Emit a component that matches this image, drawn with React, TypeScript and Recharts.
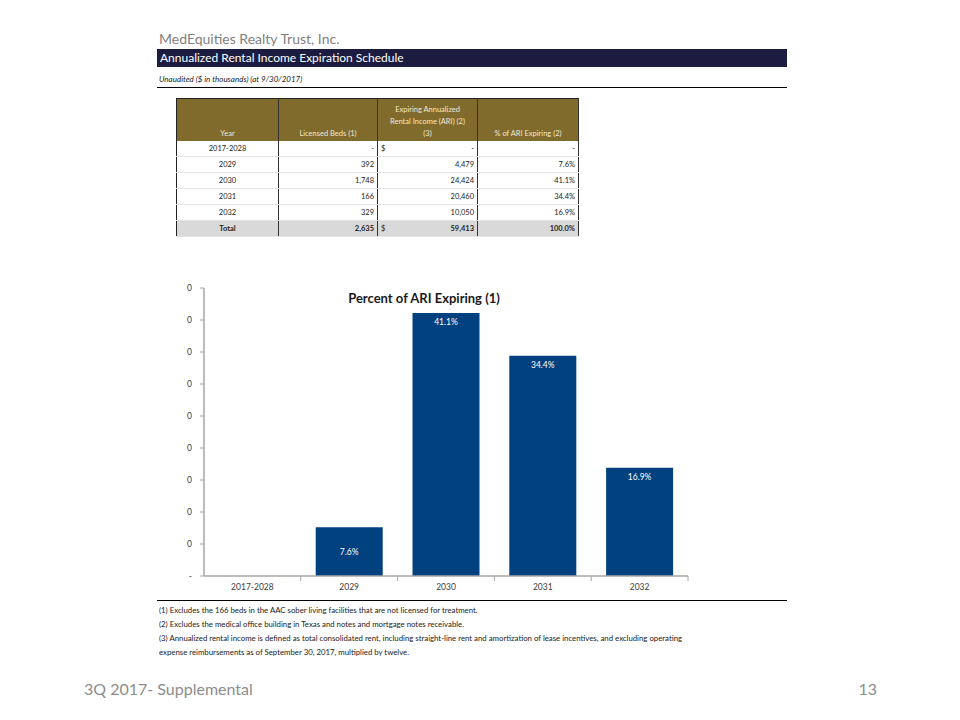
import React from 'react';
import { BarChart, Bar, XAxis, YAxis, LabelList } from 'recharts';

const years = ['2017-2028', '2029', '2030', '2031', '2032'];
const licensedBeds = ['-', '392', '1,748', '166', '329'];
const ariValues = ['-', '4,479', '24,424', '20,460', '10,050'];
const pctLabels = ['-', '7.6%', '41.1%', '34.4%', '16.9%'];
const pctExpiring = [0, 0.076, 0.411, 0.344, 0.169];
const yTicks = [0, 0.05, 0.1, 0.15, 0.2, 0.25, 0.3, 0.35, 0.4, 0.45];
const totalRow = { beds: '2,635', ari: '59,413', pct: '100.0%' };
const footnotes = [
  '(1) Excludes the 166 beds in the AAC sober living facilities that are not licensed for treatment.',
  '(2) Excludes the medical office building in Texas and notes and mortgage notes receivable.',
  '(3) Annualized rental income is defined as total consolidated rent, including straight-line rent and amortization of lease incentives, and excluding operating',
  'expense reimbursements as of September 30, 2017, multiplied by twelve.',
];

const chartData = years.map((y, i) => ({ year: y, pct: pctExpiring[i] }));

const FONT = 'Lato, "Open Sans", sans-serif';
const BAR = '#02417f';
const AXIS = '#a6a6a6';

const XTick = (props: any) => {
  const { x, y, payload, index, visibleTicksCount } = props;
  const half = payload && payload.offset ? payload.offset : 0;
  return (
    <g>
      {half > 0 && index > 0 && (
        <line x1={x - half} x2={x - half} y1={y - 8} y2={y - 3} stroke={AXIS} strokeWidth={1} />
      )}
      {half > 0 && index === visibleTicksCount - 1 && (
        <line x1={x + half} x2={x + half} y1={y - 8} y2={y - 3} stroke={AXIS} strokeWidth={1} />
      )}
      <text x={x} y={y + 6} textAnchor="middle" fontSize={8.5} fill="#404040" fontFamily={FONT}>
        {payload.value}
      </text>
    </g>
  );
};

const BarLabel = (props: any) => {
  const { x, y, width, height, value } = props;
  if (!value) return null;
  const ly = height < 60 ? y + height / 2 + 3 : y + 12;
  return (
    <text x={x + width / 2} y={ly} textAnchor="middle" fontSize={8.5} fill="#ffffff" fontFamily={FONT}>
      {(value * 100).toFixed(1) + '%'}
    </text>
  );
};

const th: React.CSSProperties = {
  color: '#efe9d6',
  fontWeight: 'normal',
  verticalAlign: 'bottom',
  padding: '0 2px 1px 2px',
  borderRight: '1px solid #333',
  textAlign: 'center',
  lineHeight: '12px',
};

const td: React.CSSProperties = {
  height: 15,
  padding: '0 3px',
  borderRight: '1px solid #333',
  borderBottom: '1px solid #e4e4e4',
  textAlign: 'right',
  lineHeight: '15px',
};

export default function App() {
  return (
    <div style={{ position: 'absolute', left: 0, top: 0, width: 960, height: 720, background: '#fff', fontFamily: FONT }}>
      <div style={{ position: 'absolute', left: 159, top: 30, fontSize: 14, color: '#7f7f7f' }}>
        MedEquities Realty Trust, Inc.
      </div>
      <div style={{ position: 'absolute', left: 157, top: 49, width: 630, height: 18, background: '#1b1c3f' }}>
        <div style={{ marginLeft: 3, fontSize: 12, lineHeight: '18px', color: '#ffffff' }}>
          Annualized Rental Income Expiration Schedule
        </div>
      </div>
      <div style={{ position: 'absolute', left: 159, top: 74, fontSize: 8, fontStyle: 'italic', color: '#222' }}>
        Unaudited ($ in thousands) (at 9/30/2017)
      </div>
      <div style={{ position: 'absolute', left: 157, top: 87, width: 630, height: 1, background: '#000' }} />

      <table
        style={{
          position: 'absolute',
          left: 176,
          top: 98,
          width: 402,
          borderCollapse: 'collapse',
          fontSize: 7.5,
          color: '#222',
          border: '1px solid #222',
          tableLayout: 'fixed',
        }}
      >
        <colgroup>
          <col style={{ width: 102 }} />
          <col style={{ width: 99 }} />
          <col style={{ width: 100 }} />
          <col style={{ width: 101 }} />
        </colgroup>
        <thead>
          <tr style={{ background: '#806b2c', height: 42 }}>
            <th style={th}>Year</th>
            <th style={th}>Licensed Beds (1)</th>
            <th style={th}>
              Expiring Annualized
              <br />
              Rental Income (ARI) (2)
              <br />
              (3)
            </th>
            <th style={th}>% of ARI Expiring (2)</th>
          </tr>
        </thead>
        <tbody>
          {years.map((y, i) => (
            <tr key={y}>
              <td style={{ ...td, textAlign: 'center' }}>{y}</td>
              <td style={td}>{licensedBeds[i]}</td>
              <td style={td}>
                {i === 0 && <span style={{ float: 'left' }}>$</span>}
                {ariValues[i]}
              </td>
              <td style={td}>{pctLabels[i]}</td>
            </tr>
          ))}
          <tr style={{ background: '#d9d9d9', fontWeight: 'bold', borderTop: '1px solid #444' }}>
            <td style={{ ...td, textAlign: 'center' }}>Total</td>
            <td style={td}>{totalRow.beds}</td>
            <td style={td}>
              <span style={{ float: 'left', fontWeight: 'normal' }}>$</span>
              {totalRow.ari}
            </td>
            <td style={td}>{totalRow.pct}</td>
          </tr>
        </tbody>
      </table>

      <div
        style={{
          position: 'absolute',
          left: 204,
          top: 290,
          width: 440,
          textAlign: 'center',
          fontSize: 13,
          fontWeight: 'bold',
          color: '#1a1a1a',
        }}
      >
        Percent of ARI Expiring (1)
      </div>

      <div style={{ position: 'absolute', left: 150, top: 270 }}>
        <BarChart
          width={560}
          height={340}
          data={chartData}
          margin={{ top: 18, right: 22, bottom: 4, left: 0 }}
          barCategoryGap="15.4%"
        >
          <XAxis
            dataKey="year"
            height={30}
            tickLine={false}
            axisLine={{ stroke: AXIS, strokeWidth: 1.5 }}
            tick={<XTick />}
            interval={0}
          />
          <YAxis
            width={54}
            domain={[0, 0.45]}
            ticks={yTicks}
            interval={0}
            tickSize={4}
            tickLine={{ stroke: AXIS }}
            axisLine={{ stroke: AXIS, strokeWidth: 1.5 }}
            tick={{ fontSize: 8.5, fill: '#404040', fontFamily: FONT }}
            tickFormatter={(v: number) => (v === 0 ? '-' : String(Math.round(v)))}
            tickMargin={8}
          />
          <Bar dataKey="pct" fill={BAR} isAnimationActive={false}>
            <LabelList dataKey="pct" content={<BarLabel />} />
          </Bar>
        </BarChart>
      </div>

      <div style={{ position: 'absolute', left: 157, top: 600, width: 630, height: 1, background: '#000' }} />
      <div style={{ position: 'absolute', left: 159, top: 603, fontSize: 7.8, color: '#222', lineHeight: '14px' }}>
        {footnotes.map((f) => (
          <div key={f}>{f}</div>
        ))}
      </div>

      <div style={{ position: 'absolute', left: 84, top: 679, fontSize: 16, color: '#8c8c8c' }}>3Q 2017- Supplemental</div>
      <div style={{ position: 'absolute', left: 837, top: 679, width: 40, textAlign: 'right', fontSize: 16, color: '#8c8c8c' }}>
        13
      </div>
    </div>
  );
}
